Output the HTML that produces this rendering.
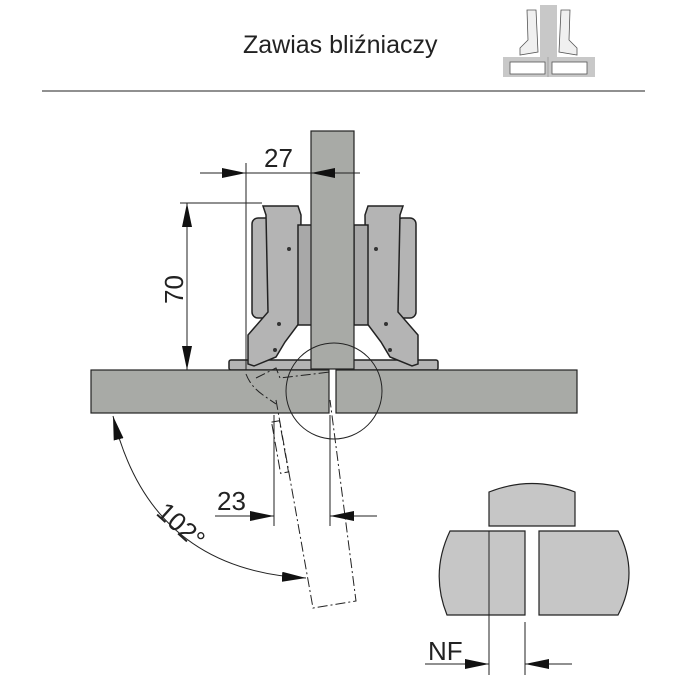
<!DOCTYPE html>
<html><head><meta charset="utf-8"><style>
html,body{margin:0;padding:0;background:#fff}
svg{display:block}
text{font-family:"Liberation Sans",sans-serif;fill:#222}
</style></head><body>
<svg width="688" height="688" viewBox="0 0 688 688" xmlns="http://www.w3.org/2000/svg">
<defs>
<marker id="ar" viewBox="0 0 24 10" refX="24" refY="5" markerWidth="24" markerHeight="10" markerUnits="userSpaceOnUse" orient="auto"><path d="M0,0 L24,5 L0,10 Z" fill="#111"/></marker>
<marker id="as" viewBox="0 0 24 10" refX="0" refY="5" markerWidth="24" markerHeight="10" markerUnits="userSpaceOnUse" orient="auto"><path d="M24,0 L0,5 L24,10 Z" fill="#111"/></marker>
</defs>
<text x="243" y="53" font-size="25">Zawias bliźniaczy</text>
<!-- thumbnail -->
<g stroke="#555" stroke-width="0.8" fill="#ddd">
<rect x="503" y="57" width="92" height="20" fill="#c8c8c8" stroke="none"/>
<rect x="510" y="62" width="35" height="12" fill="#fff"/>
<rect x="552" y="62" width="35" height="12" fill="#fff"/>
<rect x="540" y="5" width="17" height="52" fill="#c8c8c8" stroke="none"/>
<path d="M527,10 L536,10 L538,52 L520,55 L520,48 L528,40 Z" fill="#f0f0f0"/>
<path d="M561,10 L570,10 L569,40 L577,48 L577,55 L559,52 Z" fill="#f0f0f0"/>
<line x1="548" y1="57" x2="548" y2="77" stroke="#999"/>
</g>
<line x1="42" y1="91" x2="645" y2="91" stroke="#222" stroke-width="1"/>

<!-- hinges -->
<g stroke="#222" stroke-width="1.5" fill="#b4b4b4">
<rect x="252" y="218" width="20" height="100" rx="6"/>
<rect x="229" y="360" width="92" height="10" rx="2"/>
<path d="M263,206 L298,206 L301,215 L300,322 L285,342 L276,357 L254,366 L248,364 L248,335 L268,312 L266,215 Z"/>
<rect x="298" y="225" width="14" height="100" fill="#a8a8a8"/>
<rect x="396" y="218" width="20" height="100" rx="6"/>
<rect x="348" y="360" width="90" height="10" rx="2"/>
<path d="M403,206 L368,206 L365,215 L366,322 L381,342 L390,357 L412,366 L418,364 L418,335 L398,312 L400,215 Z"/>
<rect x="354" y="225" width="14" height="100" fill="#a8a8a8"/>
</g>
<g fill="#333">
<circle cx="289" cy="249" r="2"/><circle cx="279" cy="324" r="2"/><circle cx="275" cy="350" r="2"/>
<circle cx="376" cy="249" r="2"/><circle cx="386" cy="324" r="2"/><circle cx="390" cy="350" r="2"/>
</g>
<!-- partition -->
<rect x="311" y="131" width="43" height="238" fill="#a8aaa6" stroke="#222" stroke-width="1.2"/>
<!-- panels -->
<rect x="91" y="370" width="238" height="43" fill="#a8aaa6" stroke="#222" stroke-width="1.2"/>
<rect x="336" y="370" width="241" height="43" fill="#a8aaa6" stroke="#222" stroke-width="1.2"/>
<circle cx="334" cy="391" r="48" fill="none" stroke="#222" stroke-width="1"/>
<!-- opened door dashed -->
<g fill="none" stroke="#222" stroke-width="1" stroke-dasharray="10,3,2,3">
<path d="M256,378 L276,368 L280,378 L330,372"/>
<path d="M246,374 C252,390 265,396 276,404"/>
<path d="M276,400 L313,608 L356,601 L330,400"/>
<rect x="276" y="421" width="8" height="52" transform="rotate(-10 280 447)"/>
</g>
<g stroke="#222" stroke-width="1" fill="none">
<line x1="246" y1="163" x2="246" y2="370"/>
<line x1="200" y1="173" x2="360" y2="173"/>
<line x1="200" y1="173" x2="246" y2="173" marker-end="url(#ar)"/>
<line x1="360" y1="173" x2="311" y2="173" marker-end="url(#ar)"/>
<line x1="180" y1="203" x2="262" y2="203"/>
<line x1="187" y1="286" x2="187" y2="203" marker-end="url(#ar)"/>
<line x1="187" y1="286" x2="187" y2="370" marker-end="url(#ar)"/>
<line x1="274" y1="415" x2="274" y2="526"/>
<line x1="330" y1="415" x2="330" y2="526"/>
<line x1="215" y1="516" x2="274" y2="516" marker-end="url(#ar)"/>
<line x1="377" y1="516" x2="330" y2="516" marker-end="url(#ar)"/>
<path d="M113,416 Q150,570 306,578" marker-start="url(#as)" marker-end="url(#ar)"/>
</g>
<text x="264" y="167" font-size="26">27</text>
<text x="0" y="0" font-size="26" transform="translate(183,304) rotate(-90)">70</text>
<text x="217" y="510" font-size="26">23</text>
<text x="0" y="0" font-size="26" transform="translate(155,514) rotate(42)">102°</text>
<!-- detail -->
<g stroke="#222" stroke-width="1.2" fill="#c6c6c6">
<path d="M489,492 Q532,475 575,492 L575,526 L489,526 Z"/>
<path d="M450,531 L525,531 L525,615 L447,615 Q430,573 450,531 Z"/>
<path d="M539,531 L618,531 Q640,573 618,615 L539,615 Z"/>
</g>
<g stroke="#222" stroke-width="1" fill="none">
<line x1="489" y1="531" x2="489" y2="675"/>
<line x1="525" y1="622" x2="525" y2="675"/>
<line x1="425" y1="664" x2="489" y2="664" marker-end="url(#ar)"/>
<line x1="572" y1="664" x2="525" y2="664" marker-end="url(#ar)"/>
</g>
<text x="428" y="660" font-size="26">NF</text>
</svg>
</body></html>
